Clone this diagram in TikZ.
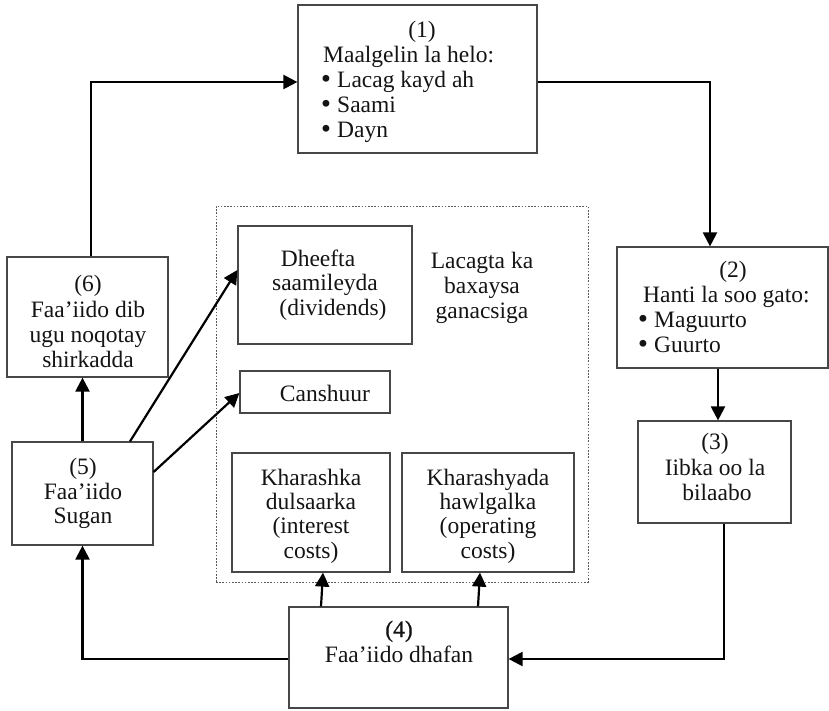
\documentclass[tikz,border=0pt]{standalone}
\usepackage{fontspec}
\setmainfont{Liberation Serif}
\newfontfamily\bulfont{DejaVu Sans}
\usetikzlibrary{arrows.meta,calc}
\newcommand\dfont{\fontsize{23.5}{25}\selectfont}
\newcommand\bul{\makebox[18pt][l]{\bulfont\char"2022}}
\begin{document}
\begin{tikzpicture}[x=1pt,y=-1pt,
  box/.style={draw=black!72,line width=1.2pt,fill=white,inner sep=0pt,rectangle},
  txt/.style={font=\dfont,inner sep=0pt,anchor=base,text=black!92},
  txtw/.style={font=\dfont,inner sep=0pt,anchor=base west,text=black!92},
  arr/.style={line width=2.2pt,-{Triangle[length=14pt,width=14pt]}},
  ln/.style={line width=2.2pt}]
\useasboundingbox (0,0) rectangle (829,710);
% dotted group
\node[draw=black!65,line width=0.9pt,dash pattern=on 1.6pt off 1.6pt,rectangle,inner sep=0pt,minimum width=372pt,minimum height=376pt] (grp) at (402,394) {};
% boxes
\node[box,minimum width=239pt,minimum height=148pt] (b1) at (417.5,79) {};
\node[box,minimum width=211pt,minimum height=121pt] (b2) at (722.5,307.5) {};
\node[box,minimum width=153pt,minimum height=102pt] (b3) at (714.5,472) {};
\node[box,minimum width=219pt,minimum height=101pt] (b4) at (398.5,657.5) {};
\node[box,minimum width=141pt,minimum height=103pt] (b5) at (82.5,493.5) {};
\node[box,minimum width=161pt,minimum height=120pt] (b6) at (87.5,317) {};
\node[box,minimum width=174pt,minimum height=118pt] (bd) at (325,285) {};
\node[box,minimum width=150pt,minimum height=42pt] (bc) at (315,392) {};
\node[box,minimum width=158pt,minimum height=119pt] (bk) at (311,512.5) {};
\node[box,minimum width=172pt,minimum height=119pt] (bo) at (488,512.5) {};
% texts box 1
\node[txt] (t1a) at (422,37) {(1)};
\node[txtw] (t1b) at (323,62) {Maalgelin la helo:};
\node[txtw] (t1c) at (319,87) {\bul Lacag kayd ah};
\node[txtw] (t1d) at (319,112) {\bul Saami};
\node[txtw] (t1e) at (319,137) {\bul Dayn};
% box 2
\node[txt] (t2a) at (733,277) {(2)};
\node[txtw] (t2b) at (643,302) {Hanti la soo gato:};
\node[txtw] (t2c) at (636,327) {\bul Maguurto};
\node[txtw] (t2d) at (636,352) {\bul Guurto};
% box 3
\node[txt] (t3a) at (715,449) {(3)};
\node[txt] (t3b) at (715,475) {Iibka oo la};
\node[txt] (t3c) at (717,500) {bilaabo};
% box 4
\node[txt] (t4a) at (399,637) {\addfontfeature{FakeBold=0.8}(4)};
\node[txt] (t4b) at (399,662) {Faa’iido dhafan};
% box 5
\node[txt] (t5a) at (83,474) {(5)};
\node[txt] (t5b) at (83,499) {Faa’iido};
\node[txt] (t5c) at (83,523) {Sugan};
% box 6
\node[txt] (t6a) at (88,291) {(6)};
\node[txt] (t6b) at (88,317) {Faa’iido dib};
\node[txt] (t6c) at (88,342) {ugu noqotay};
\node[txt] (t6d) at (88,367) {shirkadda};
% dividends
\node[txt] (tda) at (318,266) {Dheefta};
\node[txt] (tdb) at (325,290) {saamileyda};
\node[txt] (tdc) at (333,315) {(dividends)};
% group label
\node[txt] (tga) at (482,268) {Lacagta ka};
\node[txt] (tgb) at (482,293) {baxaysa};
\node[txt] (tgc) at (482,318) {ganacsiga};
% tax
\node[txt] (tca) at (325,401) {Canshuur};
% interest
\node[txt] (tka) at (311,485) {Kharashka};
\node[txt] (tkb) at (311,509) {dulsaarka};
\node[txt] (tkc) at (311,533) {(interest};
\node[txt] (tkd) at (311,558) {costs)};
% operating
\node[txt] (toa) at (488,485) {Kharashyada};
\node[txt] (tob) at (488,509) {hawlgalka};
\node[txt] (toc) at (488,533) {(operating};
\node[txt] (tod) at (488,558) {costs)};
% connectors
\draw[arr] ([xshift=3.5pt]b6.north) |- ([yshift=-3pt]b1.west);
\draw[arr] ([yshift=-3pt]b1.east) -| ([xshift=-12.5pt]b2.north);
\draw[arr] ([xshift=-4.5pt]b2.south) -- ([xshift=3.5pt]b3.north);
\draw[arr] ([xshift=9.5pt]b3.south) |- ([yshift=-1.5pt]b4.east);
\draw[arr] ([yshift=-1.5pt]b4.west) -| (b5.south);
\draw[arr] (b5.north) -- (b5.north |- b6.south);
\draw[arr] ([xshift=-77.5pt]b4.north) -- ([xshift=12pt]bk.south);
\draw[arr] ([xshift=79.5pt]b4.north) -- ([xshift=-8pt]bo.south);
\draw[arr] ([xshift=47.5pt]b5.north) -- ([yshift=15pt]bd.west);
\draw[arr] ([yshift=21.5pt]b5.east) -- ([yshift=-1pt]bc.west);
\end{tikzpicture}
\end{document}
